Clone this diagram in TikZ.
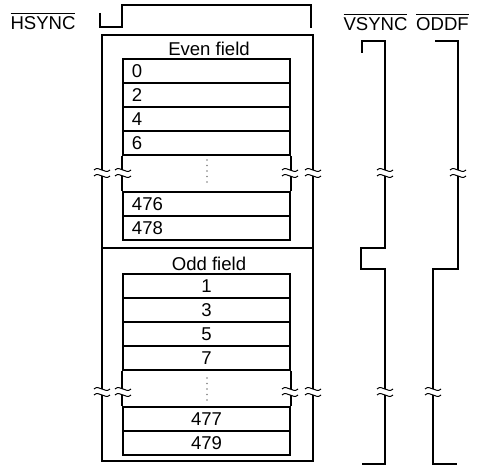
\documentclass[tikz,border=0pt]{standalone}
\usepackage{amsmath}
\usepackage{fontspec}
\setmainfont{Liberation Sans}
\usepackage{tikz}
\usetikzlibrary{positioning}
% break mark on a vertical line
\newcommand{\brkmark}[2]{%
  \begin{scope}[shift={(#1,#2)}]
    \fill[white] (-3,-3) rectangle (3,3);
    \draw[line width=0.25mm] (-8,-3) .. controls (-3,-8) and (3,2) .. (8,-3);
    \draw[line width=0.25mm] (-8,3) .. controls (-3,-2) and (3,8) .. (8,3);
  \end{scope}}

\begin{document}
\begin{tikzpicture}[
  x=0.25mm,y=-0.25mm,
  line width=0.5mm,
  font=\fontsize{13.2pt}{15pt}\selectfont,
  fieldbox/.style={rectangle,draw,minimum width=52.75mm,minimum height=53.25mm,
                   inner sep=0pt},
  linebox/.style ={rectangle,draw,minimum width=41.75mm,minimum height=6mm,
                   inner ysep=0pt},
  evenline/.style={linebox,text width=37.25mm,inner xsep=2.25mm,align=left},
  oddline/.style ={linebox,align=center},
  siglabel/.style={inner sep=0pt},
  wave/.style    ={line join=miter}
]
\useasboundingbox (0,0) rectangle (481,465);

% frames of the two fields
\node[fieldbox] (evenbox) at (207.5,141.5) {};
\node[fieldbox] (oddbox)  at (207.5,354.5) {};
\node (evenlbl) at (209,49)  {Even field};
\node (oddlbl)  at (209,264) {Odd field};

% lines of each field
\foreach \n/\y in {0/71,2/95,4/119,6/143,476/204,478/228}
  \node[evenline] (e\n) at (206.5,\y) {\n};
\foreach \n/\y in {1/286,3/310,5/334,7/358,477/419,479/443}
  \node[oddline] (o\n) at (206.5,\y) {\n};

\draw (e6.south west) -- (e476.north west);
\draw (e6.south east) -- (e476.north east);
\draw (o7.south west) -- (o477.north west);
\draw (o7.south east) -- (o477.north east);

\foreach \d in {0,...,4} {
  \fill[gray] (207,{160+5.5*\d}) circle (0.8);
  \fill[gray] (207,{378+5.5*\d}) circle (0.8);
}

% signals
\node[siglabel] (hs) at (43,21)    {$\overline{\mbox{HSYNC}}$};
\node[siglabel] (vs) at (375.5,22) {$\overline{\mbox{VSYNC}}$};
\node[siglabel] (od) at (442.5,22) {$\overline{\mbox{ODDF}}$};

\draw[wave] (100,13) -- (100,27) -- (122,27) -- (122,5) -- (311,5) -- (311,28);
\draw[wave] (362,53) -- (362,41) -- (385,41) -- (385,248) -- (361,248)
  -- (361,269) -- (385,269) -- (385,464) -- (362,464);
\draw[wave] (435,41) -- (458,41) -- (458,269) -- (433,269) -- (433,464)
  -- (457,464);

% breaks
\foreach \x in {102,123,290,313,385,458}
  {\brkmark{\x}{173}}
\foreach \x in {102,123,290,313,385,433}
  {\brkmark{\x}{392}}
\end{tikzpicture}
\end{document}
